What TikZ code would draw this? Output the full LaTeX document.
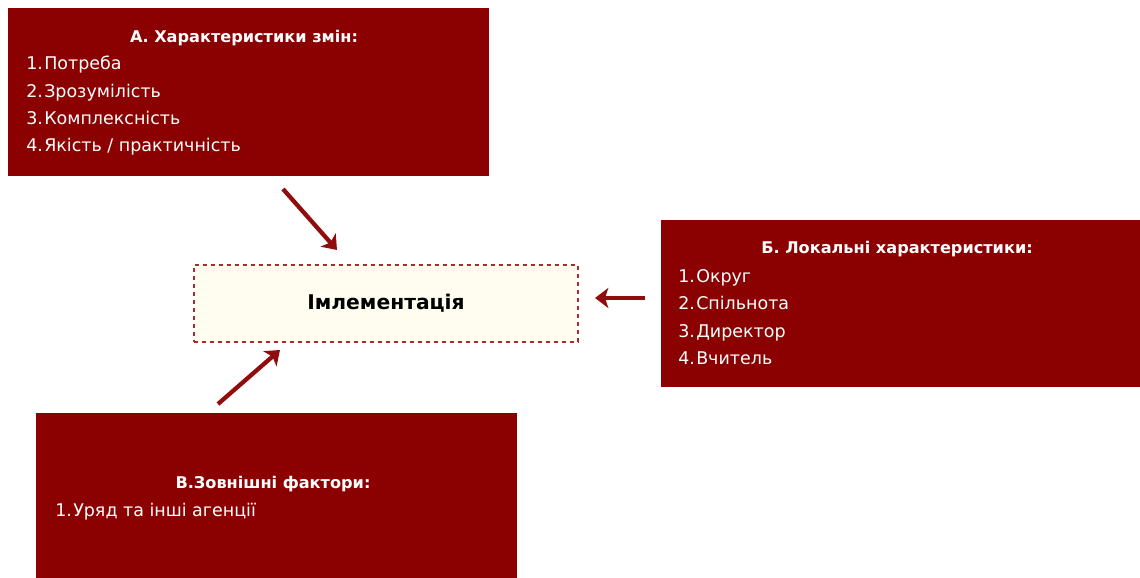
\documentclass[tikz,border=0pt]{standalone}
\usepackage{fontspec}
\setmainfont{DejaVu Sans}
\usetikzlibrary{arrows.meta}

\definecolor{boxred}{RGB}{139,0,0}
\definecolor{linered}{RGB}{145,12,12}
\definecolor{dashred}{RGB}{178,40,40}
\definecolor{cream}{RGB}{254,253,240}

\tikzset{
  redbox/.style={fill=boxred, draw=none, inner sep=0pt, anchor=north west},
  boxtitle/.style={text=white, font=\bfseries\fontsize{12.1}{14}\selectfont, inner sep=0pt},
  boxitems/.style={text=white, font=\fontsize{13.1}{20.5}\selectfont, align=left, anchor=west, inner sep=0pt},
  centrebox/.style={fill=cream, draw=dashred, dashed, line width=1pt, minimum width=288pt, minimum height=57.75pt, font=\bfseries\fontsize{15.2}{17}\selectfont},
  pointer/.style={linered, line width=3.2pt, -{Stealth[length=10pt,width=15pt,inset=2.5pt]}}
}

\begin{document}
\begin{tikzpicture}[x=0.75pt,y=-0.75pt]
  \useasboundingbox (0,0) rectangle (1140,578);

  % A
  \node[redbox, minimum width=360.75pt, minimum height=126pt] (boxA) at (8,8) {};
  \node[boxtitle] (titleA) at (244,38) {А. Характеристики змін:};
  \node[boxitems] (itemsA) at (26,106) {1.\hspace{1pt}Потреба\\2.\hspace{1pt}Зрозумілість\\3.\hspace{1pt}Комплексність\\4.\hspace{1pt}Якість / практичність};

  % Б
  \node[redbox, minimum width=359.25pt, minimum height=125.25pt] (boxB) at (661,220) {};
  \node[boxtitle] (titleB) at (897,249) {Б. Локальні характеристики:};
  \node[boxitems] (itemsB) at (678,317) {1.\hspace{1pt}Округ\\2.\hspace{1pt}Спільнота\\3.\hspace{1pt}Директор\\4.\hspace{1pt}Вчитель};

  % В
  \node[redbox, minimum width=360.75pt, minimum height=126pt] (boxC) at (36,413) {};
  \node[boxtitle] (titleC) at (273,484) {В.Зовнішні фактори:};
  \node[boxitems] (itemsC) at (55,512) {1.\hspace{1pt}Уряд та інші агенції};

  % centre
  \node[centrebox] (impl) at (386,303.5) {Імлементація};

  % arrows
  \coordinate (fromA) at (283,189);
  \coordinate (toA) at (337,250);
  \coordinate (fromB) at (645,298);
  \coordinate (toB) at (595,298);
  \coordinate (fromC) at (218,404);
  \coordinate (toC) at (280,350);
  \draw[pointer] (fromA) -- (toA);
  \draw[pointer] (fromB) -- (toB);
  \draw[pointer] (fromC) -- (toC);
\end{tikzpicture}
\end{document}
